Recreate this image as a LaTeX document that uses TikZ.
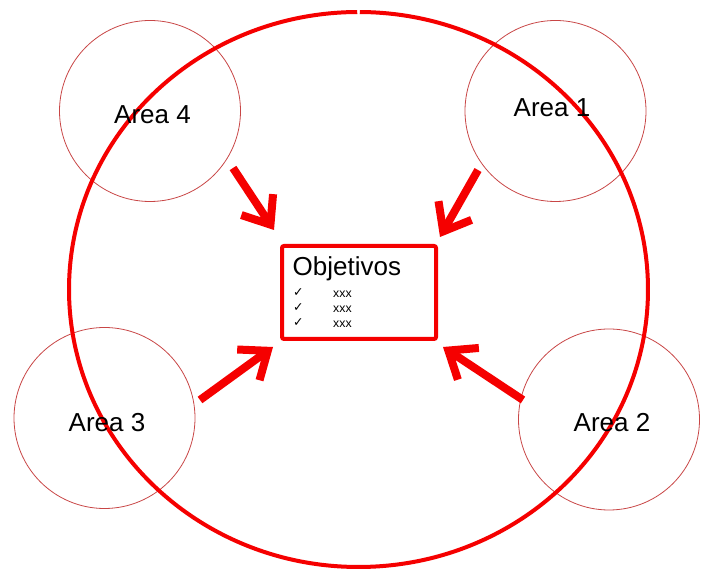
\documentclass[tikz,border=0pt]{standalone}
\usepackage{fontspec}
\setmainfont{Liberation Sans}
\newfontfamily\symfont{DejaVu Sans}
\usetikzlibrary{arrows.meta}
\definecolor{bigred}{RGB}{245,0,0}
\definecolor{thinred}{RGB}{200,70,70}
\tikzset{
  areacirc/.style={circle, draw=thinred, line width=0.8pt, minimum size=181pt, inner sep=0pt},
  arealbl/.style={font=\fontsize{26}{30}\selectfont, inner sep=0pt},
  bigarrow/.style={draw=bigred, line width=8pt, -{Straight Barb[length=24pt,width=38pt]}},
  objbox/.style={draw=bigred, line width=4pt, rounded corners=2pt, minimum width=154pt, minimum height=93pt, inner sep=0pt},
  chk/.style={font=\symfont\fontsize{12.5}{14}\selectfont, inner sep=0pt, anchor=base west},
  xx/.style={font=\fontsize{12.3}{14}\selectfont, inner sep=0pt, anchor=base west}
}
\begin{document}
\begin{tikzpicture}[x=1pt,y=1pt]
\useasboundingbox (0,0) rectangle (702,570);
% small circles
\node[areacirc] (c4) at (150,459) {};
\node[areacirc] (c1) at (555.5,459) {};
\node[areacirc] (c3) at (104.5,152) {};
\node[areacirc] (c2) at (609,150.5) {};
% big ellipse with small gap at top
\coordinate (ec) at (358.5,280.5);
\draw[bigred, line width=4pt] (ec) ++(90.25:289.5 and 277.5)
  arc[start angle=90.25, end angle=449.75, x radius=289.5, y radius=277.5];
% labels
\node[arealbl] (l4) at (152.5,455) {Area 4};
\node[arealbl] (l1) at (552,462) {Area 1};
\node[arealbl] (l3) at (107,147) {Area 3};
\node[arealbl] (l2) at (612,147) {Area 2};
% objectives box
\node[objbox] (box) at (359,277.5) {};
\node[font=\fontsize{26}{30}\selectfont, inner sep=0pt, anchor=base west] (obj) at (292.5,294.5) {Objetivos};
\node[chk] (k1) at (293,273) {✓};
\node[chk] (k2) at (293,258) {✓};
\node[chk] (k3) at (293,243) {✓};
\node[xx] (x1) at (333,272) {xxx};
\node[xx] (x2) at (333,257.3) {xxx};
\node[xx] (x3) at (333,242.3) {xxx};
% arrows
\coordinate (s4) at (233,402); \coordinate (e4) at (274,340);
\coordinate (s1) at (478,400); \coordinate (e1) at (440,333);
\coordinate (s3) at (200,170); \coordinate (e3) at (273,223);
\coordinate (s2) at (523,170); \coordinate (e2) at (443,223);
\draw[bigarrow] (s4) -- (e4);
\draw[bigarrow] (s1) -- (e1);
\draw[bigarrow] (s3) -- (e3);
\draw[bigarrow] (s2) -- (e2);
\end{tikzpicture}
\end{document}
